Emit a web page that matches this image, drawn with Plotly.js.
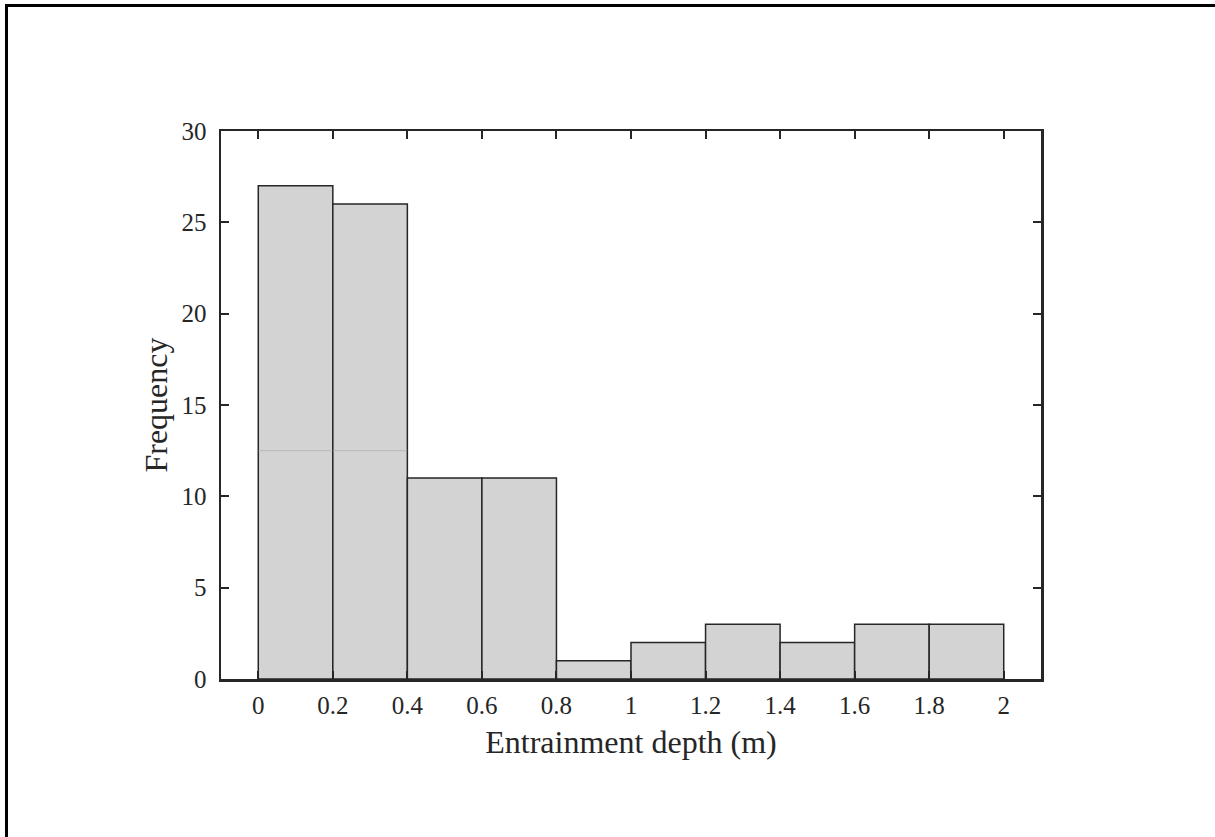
<!DOCTYPE html>
<html>
<head>
<meta charset="utf-8">
<script src="https://cdn.plot.ly/plotly-3.0.1.min.js"></script>
<style>
  html, body { margin: 0; padding: 0; background: #fff; }
  #frame { position: absolute; left: 5px; top: 4px; width: 1210px; height: 833px;
           border-left: 3px solid #000; border-top: 3px solid #000; box-sizing: border-box; }
  #chart { position: absolute; left: 0; top: 0; width: 1215px; height: 837px; }
</style>
</head>
<body>
<div id="frame"></div>
<div id="chart"></div>
<script>
// Histogram bins (m) and counts
const binStarts = [0, 0.2, 0.4, 0.6, 0.8, 1.0, 1.2, 1.4, 1.6, 1.8];
const binWidth = 0.2;
const counts = [27, 26, 11, 11, 1, 2, 3, 2, 3, 3];
const xTickVals = [0, 0.2, 0.4, 0.6, 0.8, 1, 1.2, 1.4, 1.6, 1.8, 2];
const xTickText = ['0', '0.2', '0.4', '0.6', '0.8', '1', '1.2', '1.4', '1.6', '1.8', '2'];
const yTickVals = [0, 5, 10, 15, 20, 25, 30];
const xLabel = 'Entrainment depth (m)';
const yLabel = 'Frequency';

const centers = binStarts.map(s => s + binWidth / 2);

const FONT = '"Liberation Serif", "Times New Roman", serif';

const trace = {
  type: 'bar',
  x: centers,
  y: counts,
  width: binStarts.map(() => binWidth),
  marker: { color: 'rgb(211,211,211)', line: { color: '#262626', width: 1.5 } },
  hoverinfo: 'x+y'
};

const axisCommon = {
  showline: true, linecolor: '#262626', linewidth: 2.5,
  mirror: 'ticks', ticks: 'inside', ticklen: 8, tickwidth: 2, tickcolor: '#262626',
  showgrid: false, zeroline: false,
  tickfont: { family: FONT, size: 25, color: '#262626' }
};

const layout = {
  width: 1215, height: 837,
  margin: { l: 221, r: 174, t: 131, b: 158 },
  paper_bgcolor: 'rgba(0,0,0,0)', plot_bgcolor: '#fff',
  showlegend: false,
  bargap: 0,
  xaxis: Object.assign({}, axisCommon, {
    range: [-0.1, 2.1], tickvals: xTickVals, ticktext: xTickText,
    ticklabelstandoff: 2,
    title: { text: xLabel, standoff: 13,
      font: { family: FONT, size: 32, color: '#262626' } }
  }),
  yaxis: Object.assign({}, axisCommon, {
    range: [0, 30], tickvals: yTickVals,
    ticklabelstandoff: 7,
    title: { text: yLabel, standoff: 5,
      font: { family: FONT, size: 32, color: '#262626' } }
  }),
  shapes: [
    { type: 'line', xref: 'x', yref: 'y', x0: 0, x1: 0.4, y0: 12.5, y1: 12.5,
      line: { color: 'rgba(160,160,160,0.5)', width: 1 } }
  ]
};

Plotly.newPlot('chart', [trace], layout, { displayModeBar: false, staticPlot: true });
</script>
</body>
</html>
